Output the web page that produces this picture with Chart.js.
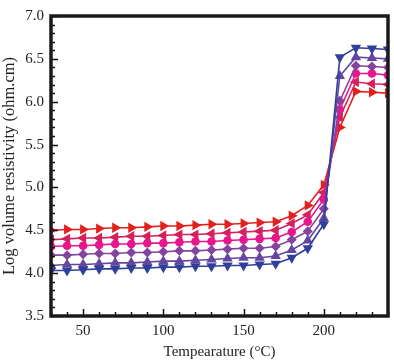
<!DOCTYPE html>
<html>
<head>
<meta charset="utf-8">
<script src="https://cdn.jsdelivr.net/npm/chart.js@4.4.0/dist/chart.umd.min.js"></script>
<style>
  html, body { margin: 0; padding: 0; background: #fff; }
  #wrap { width: 394px; height: 361px; position: relative; }
</style>
</head>
<body>
<div id="wrap"><canvas id="chart"></canvas></div>
<script>
const temps = [30, 40, 50, 60, 70, 80, 90, 100, 110, 120, 130, 140, 150, 160, 170, 180, 190, 200, 210, 220, 230, 240];

const seriesDown = [4.03, 4.03, 4.04, 4.05, 4.05, 4.06, 4.06, 4.07, 4.07, 4.08, 4.08, 4.09, 4.09, 4.10, 4.11, 4.18, 4.29, 4.57, 6.52, 6.63, 6.62, 6.61];
const seriesUp = [4.09, 4.10, 4.10, 4.11, 4.12, 4.12, 4.13, 4.14, 4.14, 4.15, 4.16, 4.17, 4.18, 4.18, 4.20, 4.27, 4.38, 4.64, 6.30, 6.52, 6.51, 6.50];
const seriesDiamond = [4.21, 4.21, 4.22, 4.23, 4.23, 4.24, 4.24, 4.25, 4.26, 4.26, 4.27, 4.28, 4.29, 4.29, 4.31, 4.39, 4.49, 4.75, 6.01, 6.42, 6.41, 6.40];
const seriesCircle = [4.31, 4.32, 4.32, 4.33, 4.34, 4.34, 4.35, 4.35, 4.36, 4.37, 4.37, 4.38, 4.39, 4.40, 4.41, 4.48, 4.60, 4.86, 5.91, 6.33, 6.33, 6.31];
const seriesLeft = [4.39, 4.40, 4.41, 4.41, 4.42, 4.43, 4.43, 4.44, 4.45, 4.45, 4.46, 4.47, 4.48, 4.49, 4.50, 4.58, 4.68, 4.94, 5.82, 6.23, 6.21, 6.20];
const seriesRight = [4.50, 4.51, 4.51, 4.52, 4.53, 4.53, 4.54, 4.55, 4.55, 4.56, 4.57, 4.57, 4.58, 4.59, 4.60, 4.67, 4.79, 5.03, 5.70, 6.12, 6.11, 6.10];

const xMajorTicks = [50, 100, 150, 200];
const yMajorTicks = [3.5, 4.0, 4.5, 5.0, 5.5, 6.0, 6.5, 7.0];

function toPoints(values) {
  return values.map((v, i) => ({ x: temps[i], y: v }));
}

function makeSet(values, color, style, rotation, radius) {
  return {
    data: toPoints(values),
    borderColor: color,
    backgroundColor: color,
    borderWidth: 1.6,
    pointStyle: style,
    rotation: rotation,
    pointRadius: radius,
    pointBorderWidth: 0,
    pointBackgroundColor: color,
    tension: 0
  };
}

// frame + inward ticks like the original plot
const framePlugin = {
  id: 'frame',
  afterDatasetsDraw(chart) {
    const { ctx, chartArea: a, scales } = chart;
    ctx.save();
    ctx.strokeStyle = '#111';
    ctx.lineWidth = 1.5;
    ctx.beginPath();
    for (let t = 30; t <= 240; t += 10) {
      const px = Math.round(scales.x.getPixelForValue(t)) + 0.5;
      const len = t % 50 === 0 ? 7 : 4;
      ctx.moveTo(px, a.bottom);
      ctx.lineTo(px, a.bottom - len);
    }
    for (let k = 35; k <= 70; k++) {
      const v = k / 10;
      const py = Math.round(scales.y.getPixelForValue(v)) + 0.5;
      const len = k % 5 === 0 ? 7 : 4;
      ctx.moveTo(a.left, py);
      ctx.lineTo(a.left + len, py);
    }
    ctx.stroke();
    ctx.lineWidth = 3.5;
    ctx.strokeStyle = '#1a1a1a';
    ctx.strokeRect(a.left, a.top, a.right - a.left, a.bottom - a.top);
    ctx.restore();
  }
};

const serif = "'Liberation Serif', 'Times New Roman', serif";

new Chart(document.getElementById('chart'), {
  type: 'line',
  data: {
    datasets: [
      makeSet(seriesDown, '#2f3f9c', 'triangle', 180, 6),
      makeSet(seriesUp, '#6446a0', 'triangle', 0, 6),
      makeSet(seriesDiamond, '#84449e', 'rectRot', 0, 5),
      makeSet(seriesCircle, '#e8168c', 'circle', 0, 4.3),
      makeSet(seriesLeft, '#d4215c', 'triangle', -90, 6),
      makeSet(seriesRight, '#e2211f', 'triangle', 90, 6)
    ]
  },
  options: {
    responsive: true,
    maintainAspectRatio: false,
    animation: false,
    layout: { padding: { top: 10, right: 6, left: 0, bottom: 0 } },
    plugins: {
      legend: { display: false },
      tooltip: { enabled: false }
    },
    scales: {
      x: {
        type: 'linear',
        min: 30,
        max: 240,
        afterBuildTicks: scale => { scale.ticks = xMajorTicks.map(v => ({ value: v })); },
        afterFit: scale => { scale.height = 45; },
        grid: { display: false, drawTicks: false },
        border: { display: false },
        ticks: {
          padding: 6,
          color: '#222',
          font: { family: serif, size: 15 },
          maxRotation: 0
        },
        title: {
          display: true,
          text: 'Tempearature (°C)',
          color: '#222',
          font: { family: serif, size: 15 },
          padding: { top: 0, bottom: 0 }
        }
      },
      y: {
        min: 3.5,
        max: 7.0,
        afterBuildTicks: scale => { scale.ticks = yMajorTicks.map(v => ({ value: v })); },
        afterFit: scale => { scale.width = 51; },
        grid: { display: false, drawTicks: false },
        border: { display: false },
        ticks: {
          padding: 7,
          color: '#222',
          font: { family: serif, size: 15 },
          callback: v => v.toFixed(1)
        },
        title: {
          display: true,
          text: 'Log volume resistivity (ohm.cm)',
          color: '#222',
          font: { family: serif, size: 16.5 },
          padding: { top: 0, bottom: 0 }
        }
      }
    }
  },
  plugins: [framePlugin]
});
</script>
</body>
</html>
